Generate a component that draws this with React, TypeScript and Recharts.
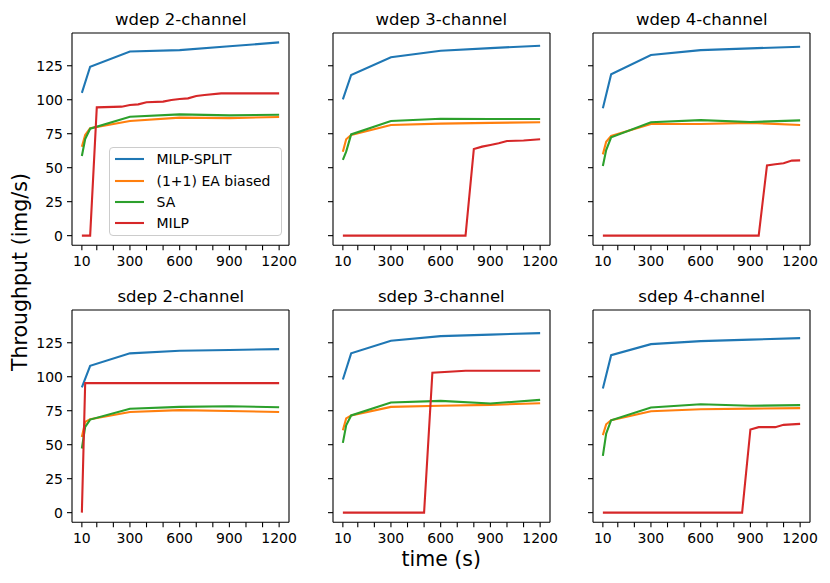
import React from 'react';
import { LineChart, Line, XAxis, YAxis, Legend } from 'recharts';

// time stamps (s)
const splitTimes = [10, 60, 300, 600, 900, 1200];
const heurTimes = [10, 30, 60, 300, 600, 900, 1200];

// wdep 2-channel
const wdep2Split = [105, 124.3, 135.5, 136.5, 139.3, 142.2];
const wdep2Ea = [65.4, 74, 79, 84.3, 86.8, 86.5, 87.3];
const wdep2Sa = [58.6, 71, 78.7, 87.5, 89.2, 88.5, 89];
const wdep2MilpTimes = [10, 60, 100, 250, 300, 350, 400, 500, 550, 600, 650, 700, 750, 850, 900, 1200];
const wdep2Milp = [0, 0, 94.4, 94.9, 96.1, 96.6, 98.1, 98.6, 99.8, 100.5, 101, 102.7, 103.5, 104.7, 104.7, 104.7];

// wdep 3-channel
const wdep3Split = [100.3, 118.2, 131.2, 136, 138, 139.7];
const wdep3Ea = [61.8, 70.9, 74, 81.4, 82.4, 83, 83.4];
const wdep3Sa = [55.7, 61.8, 74.5, 84.3, 86, 85.8, 85.8];
const wdep3MilpTimes = [10, 750, 800, 850, 900, 950, 1000, 1100, 1200];
const wdep3Milp = [0, 0, 63.7, 65.5, 66.7, 68, 69.6, 70, 70.9];

// wdep 4-channel
const wdep4Split = [93.7, 118.7, 132.9, 136.5, 137.8, 139];
const wdep4Ea = [59.8, 69.1, 73.3, 82.1, 82.1, 83, 81.4];
const wdep4Sa = [51.2, 63, 72.3, 83.4, 85, 83.6, 84.8];
const wdep4MilpTimes = [10, 950, 1000, 1050, 1100, 1150, 1200];
const wdep4Milp = [0, 0, 51.7, 52.5, 53.2, 55.2, 55.4];

// sdep 2-channel
const sdep2Split = [92.1, 108, 117.2, 119.1, 119.7, 120.3];
const sdep2Ea = [55.7, 66.8, 68.8, 74.1, 75.4, 74.8, 74.1];
const sdep2Sa = [47.2, 63.1, 68.5, 76.4, 77.8, 78.3, 77.6];
const sdep2MilpTimes = [10, 30, 1200];
const sdep2Milp = [0, 95.3, 95.3];

// sdep 3-channel
const sdep3Split = [98, 117.2, 126.5, 129.9, 131, 132.1];
const sdep3Ea = [60.6, 69.3, 71.5, 77.8, 78.6, 79.3, 80.5];
const sdep3Sa = [51.3, 64.3, 71.5, 81.1, 82.2, 80.3, 83];
const sdep3MilpTimes = [10, 500, 550, 750, 1200];
const sdep3Milp = [0, 0, 102.9, 104.4, 104.4];

// sdep 4-channel
const sdep4Split = [91.4, 115.9, 124, 126.2, 127.3, 128.4];
const sdep4Ea = [57, 65, 68, 74.6, 76.1, 76.5, 76.9];
const sdep4Sa = [41.7, 58.2, 68, 77.4, 79.8, 78.6, 79.1];
const sdep4MilpTimes = [10, 850, 900, 950, 1050, 1100, 1200];
const sdep4Milp = [0, 0, 61.2, 62.9, 62.9, 64.6, 65.3];

const titles = ['wdep 2-channel', 'wdep 3-channel', 'wdep 4-channel', 'sdep 2-channel', 'sdep 3-channel', 'sdep 4-channel'];

const xTicks = [10, 100, 200, 300, 400, 500, 600, 700, 800, 900, 1000, 1100, 1200];
const xTickLabels = [10, 300, 600, 900, 1200];
const yTicks = [0, 25, 50, 75, 100, 125];

const SERIES = [
  { key: 'split', name: 'MILP-SPLIT', color: '#1f77b4' },
  { key: 'ea', name: '(1+1) EA biased', color: '#ff7f0e' },
  { key: 'sa', name: 'SA', color: '#2ca02c' },
  { key: 'milp', name: 'MILP', color: '#d62728' },
];

const zip = (ts: number[], vs: number[]) => ts.map((t, i) => ({ t, v: vs[i] }));

const panels = [
  { split: zip(splitTimes, wdep2Split), ea: zip(heurTimes, wdep2Ea), sa: zip(heurTimes, wdep2Sa), milp: zip(wdep2MilpTimes, wdep2Milp) },
  { split: zip(splitTimes, wdep3Split), ea: zip(heurTimes, wdep3Ea), sa: zip(heurTimes, wdep3Sa), milp: zip(wdep3MilpTimes, wdep3Milp) },
  { split: zip(splitTimes, wdep4Split), ea: zip(heurTimes, wdep4Ea), sa: zip(heurTimes, wdep4Sa), milp: zip(wdep4MilpTimes, wdep4Milp) },
  { split: zip(splitTimes, sdep2Split), ea: zip(heurTimes, sdep2Ea), sa: zip(heurTimes, sdep2Sa), milp: zip(sdep2MilpTimes, sdep2Milp) },
  { split: zip(splitTimes, sdep3Split), ea: zip(heurTimes, sdep3Ea), sa: zip(heurTimes, sdep3Sa), milp: zip(sdep3MilpTimes, sdep3Milp) },
  { split: zip(splitTimes, sdep4Split), ea: zip(heurTimes, sdep4Ea), sa: zip(heurTimes, sdep4Sa), milp: zip(sdep4MilpTimes, sdep4Milp) },
];

const FONT = '"DejaVu Sans", sans-serif';
const COL_LEFT = [72.3, 332.8, 593.2];
const ROW_TOP = [33, 309.8];
const FRAME_W = 217;
const FRAME_H = 212.3;
const Y_AXIS_W = 50;
const TOP_M = 29; // + 1px top axis
const RIGHT_M = 9; // + 1px right axis
const X_AXIS_H = 40;
const X_DOMAIN = [-49.5, 1259.5];
const Y_DOMAIN = [-7.1, 149.1];

const tickStyle = { fill: '#000', fontSize: 14, fontFamily: FONT };
const spine = { stroke: '#000', strokeWidth: 1.1 };

const LegendBox = () => (
  <div
    style={{
      boxSizing: 'border-box',
      width: 173,
      border: '1px solid #cccccc',
      borderRadius: 4,
      background: 'rgba(255,255,255,0.8)',
      padding: '1px 4px 1px 4.7px',
      fontFamily: FONT,
      fontSize: 14,
      color: '#000',
    }}
  >
    {SERIES.map((s) => (
      <div key={s.key} style={{ display: 'flex', alignItems: 'center', height: 21.3 }}>
        <svg width={29} height={4} style={{ flex: 'none' }}>
          <line x1={0} y1={2} x2={29} y2={2} stroke={s.color} strokeWidth={2.1} />
        </svg>
        <span style={{ marginLeft: 12.5, whiteSpace: 'nowrap' }}>{s.name}</span>
      </div>
    ))}
  </div>
);

const Panel = ({ idx }: { idx: number }) => {
  const col = idx % 3;
  const row = Math.floor(idx / 3);
  const left = COL_LEFT[col] - Y_AXIS_W;
  const top = ROW_TOP[row] - TOP_M - 1;
  const data = panels[idx] as Record<string, { t: number; v: number }[]>;
  return (
    <div style={{ position: 'absolute', left, top }}>
      <LineChart
        width={Y_AXIS_W + FRAME_W + RIGHT_M + 1}
        height={TOP_M + 1 + FRAME_H + X_AXIS_H}
        margin={{ top: TOP_M, right: RIGHT_M, bottom: 0, left: 0 }}
      >
        <XAxis
          type="number"
          dataKey="t"
          domain={X_DOMAIN}
          allowDataOverflow
          ticks={xTicks}
          interval={0}
          tickFormatter={(v: number) => (xTickLabels.includes(v) ? String(v) : '')}
          tick={tickStyle}
          tickSize={5}
          tickMargin={6}
          tickLine={spine}
          axisLine={spine}
          height={X_AXIS_H}
        />
        <XAxis
          xAxisId="top"
          orientation="top"
          type="number"
          dataKey="t"
          domain={X_DOMAIN}
          allowDataOverflow
          height={1}
          ticks={[]}
          tick={false}
          tickLine={false}
          axisLine={spine}
        />
        <YAxis
          type="number"
          domain={Y_DOMAIN}
          allowDataOverflow
          ticks={yTicks}
          interval={0}
          tickFormatter={(v: number) => (col === 0 ? String(v) : '')}
          tick={tickStyle}
          tickSize={5}
          tickMargin={4}
          tickLine={spine}
          axisLine={spine}
          width={Y_AXIS_W}
        />
        <YAxis
          yAxisId="right"
          orientation="right"
          type="number"
          domain={Y_DOMAIN}
          allowDataOverflow
          width={1}
          ticks={[]}
          tick={false}
          tickLine={false}
          axisLine={spine}
        />
        {SERIES.map((s) => (
          <Line
            key={s.key}
            data={data[s.key]}
            dataKey="v"
            name={s.name}
            type="linear"
            stroke={s.color}
            strokeWidth={2.1}
            dot={false}
            activeDot={false}
            isAnimationActive={false}
          />
        ))}
        {/* invisible series bound to the top/right axes so those spines are drawn */}
        <Line
          data={data.split}
          dataKey="v"
          xAxisId="top"
          yAxisId="right"
          stroke="none"
          dot={false}
          activeDot={false}
          legendType="none"
          isAnimationActive={false}
        />
        {idx === 0 && (
          <Legend
            layout="vertical"
            align="center"
            verticalAlign="middle"
            content={() => <LegendBox />}
            wrapperStyle={{ left: 109.3 - left, top: 146.7 - top, width: 173 }}
          />
        )}
      </LineChart>
    </div>
  );
};

export default function App() {
  return (
    <div style={{ position: 'absolute', left: 0, top: 0, width: 830, height: 583, background: '#fff' }}>
      {panels.map((_, i) => (
        <Panel key={i} idx={i} />
      ))}
      <svg
        width={830}
        height={583}
        style={{ position: 'absolute', left: 0, top: 0, pointerEvents: 'none' }}
        fontFamily={FONT}
      >
        {titles.map((t, i) => (
          <text
            key={t}
            x={COL_LEFT[i % 3] + FRAME_W / 2}
            y={ROW_TOP[Math.floor(i / 3)] - 8}
            textAnchor="middle"
            fontSize={16.5}
            fill="#000"
          >
            {t}
          </text>
        ))}
        <text transform="translate(26.7,272) rotate(-90)" textAnchor="middle" fontSize={20.5} fill="#000">
          Throughput (img/s)
        </text>
        <text x={441.3} y={566} textAnchor="middle" fontSize={20.5} fill="#000">
          time (s)
        </text>
      </svg>
    </div>
  );
}
